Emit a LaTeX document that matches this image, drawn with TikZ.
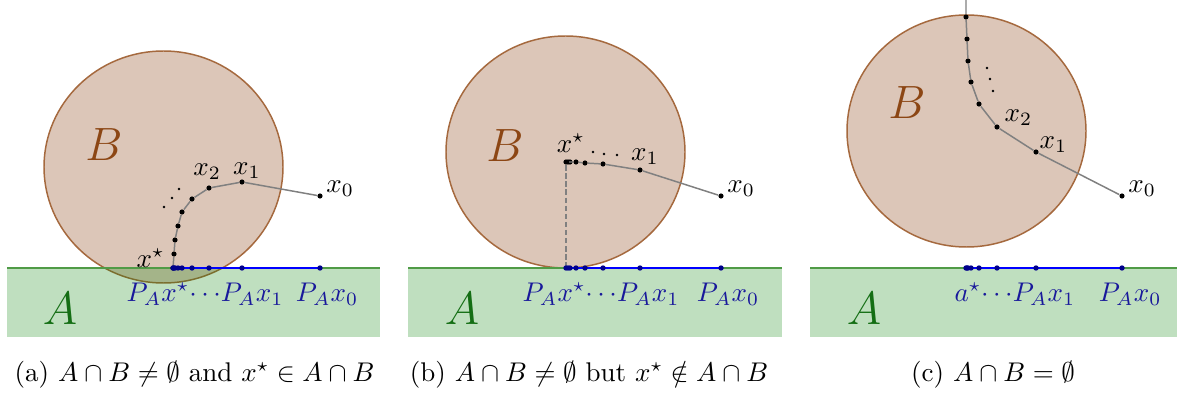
\documentclass[tikz,border=0pt]{standalone}
\usepackage{amsmath,amssymb}
\usepackage{xcolor}
\usetikzlibrary{positioning}

\definecolor{ballfill}{RGB}{220,198,184}
\definecolor{balledge}{RGB}{165,105,62}
\definecolor{ballname}{RGB}{140,70,20}
\definecolor{setfill}{RGB}{0,128,0}
\definecolor{setedge}{RGB}{80,155,70}
\definecolor{setname}{RGB}{20,110,20}
\definecolor{projline}{RGB}{0,0,255}
\definecolor{projdot}{RGB}{0,0,140}
\definecolor{projname}{RGB}{25,25,155}

\begin{document}
\begin{tikzpicture}[
		x=0.37pt, y=-0.37pt,
		ball/.style={draw=balledge, line width=0.55pt, fill=ballfill},
		setA/.style={fill=setfill, fill opacity=0.25},
		edgeA/.style={draw=setedge, line width=0.75pt},
		trail/.style={draw=gray, line width=0.55pt},
		iter/.style={circle, fill=black, inner sep=0pt, minimum size=1.9pt},
		proj/.style={circle, fill=projdot, inner sep=0pt, minimum size=2pt},
		projpath/.style={draw=projline, line width=0.75pt},
		trend/.style={circle, fill=black, inner sep=0pt, minimum size=1pt},
		balllbl/.style={text=ballname, font=\LARGE, inner sep=0pt},
		setlbl/.style={text=setname, font=\LARGE, inner sep=0pt},
		lbl/.style={inner sep=1pt},
		plbl/.style={inner sep=1pt, text=projname}
		]
		
		\useasboundingbox (0,0) rectangle (1177,396);
		
		% (a)
		\draw[ball] (163.5,167) ellipse [x radius=119.5, y radius=116];
		\node[balllbl] (Ba) at (104,145) {$B$};
		\fill[setA] (7,268) rectangle (380,337);
		\draw[edgeA] (7,268) -- (380,268);
		\node[setlbl] (Aa) at (60,309) {$A$};
		
		\foreach \x/\y [count=\i] in {320/196,242/182,209/188,192/199,182/212,178/226,175/240,174/254,173/268}
			\node[iter] (a\i) at (\x,\y) {};
		\draw[trail] (a1) -- (a2) -- (a3) -- (a4) -- (a5) -- (a6) -- (a7) -- (a8) -- (a9);
		\foreach \x/\y [count=\i] in {164/207,172/198,179/189}
			\node[trend] (ta\i) at (\x,\y) {};
		
		\foreach \x [count=\i] in {320,242,209,192,182,178,175,174,173}
			\coordinate (pa\i) at (\x,268);
		\draw[projpath] (pa9) -- (pa1);
		\foreach \i in {1,...,9}
			\node[proj] (pda\i) at (pa\i) {};
		
		\node[lbl, right=0pt of a1, yshift=2.6pt] (la0) {$x_0$};
		\node[lbl, above=-0.9pt of a2, xshift=1.8pt] (la1) {$x_1$};
		\node[lbl, above=0.7pt of a3, xshift=-0.7pt] (la2) {$x_2$};
		\node[lbl, left=0.8pt of a9, yshift=3.7pt] (las) {$x^\star$};
		\node[plbl, below=4.3pt of pa2, xshift=-13.7pt] (pla) {$P_Ax^\star{\cdots}P_Ax_1$};
		\node[plbl, below=4.3pt of pa1, xshift=2.6pt] (plb) {$P_Ax_0$};
		
		\node (capa) at (194.5,375) {(a) $A\cap B\neq\emptyset$ and $x^\star\in A\cap B$};
		
		% (b)
		\draw[ball] (565.5,152) ellipse [x radius=119.5, y radius=116];
		\node[balllbl] (Bb) at (505,146) {$B$};
		\fill[setA] (408,268) rectangle (782,337);
		\draw[edgeA] (408,268) -- (782,268);
		\node[setlbl] (Ab) at (462,309) {$A$};
		
		\foreach \x/\y [count=\i] in {721/196,640/170,603/164,585/163,576/162,570/162,568/162,566/162}
			\node[iter] (b\i) at (\x,\y) {};
		\draw[trail] (b1) -- (b2) -- (b3) -- (b4) -- (b5) -- (b6) -- (b7) -- (b8);
		\foreach \x/\y [count=\i] in {593/152,604/154,617/155}
			\node[trend] (tb\i) at (\x,\y) {};
		
		\foreach \x [count=\i] in {721,640,603,585,576,570,568,566}
			\coordinate (pb\i) at (\x,268);
		\draw[gray, dash pattern=on 2pt off 1pt, line width=0.4pt] (b8) -- (pb8);
		\draw[projpath] (pb8) -- (pb1);
		\foreach \i in {1,...,8}
			\node[proj] (pdb\i) at (pb\i) {};
		
		\node[lbl, right=0pt of b1, yshift=2.6pt] (lb0) {$x_0$};
		\node[lbl, above=-0.4pt of b2, xshift=1.8pt] (lb1) {$x_1$};
		\node[lbl, above=1.2pt of b8, xshift=1.8pt] (lbs) {$x^\star$};
		\node[plbl, below=4.3pt of pb2, xshift=-14.4pt] (plc) {$P_Ax^\star{\cdots}P_Ax_1$};
		\node[plbl, below=4.3pt of pb1, xshift=2.6pt] (pld) {$P_Ax_0$};
		
		\node (capb) at (589,375) {(b) $A\cap B\neq\emptyset$ but $x^\star\notin A\cap B$};
		
		% (c)
		\draw[ball] (966.5,131) ellipse [x radius=119.5, y radius=116];
		\node[balllbl] (Bc) at (907,103) {$B$};
		\fill[setA] (810,268) rectangle (1177,337);
		\draw[edgeA] (810,268) -- (1177,268);
		\node[setlbl] (Ac) at (864,309) {$A$};
		
		\foreach \x/\y [count=\i] in {1122/196,1036/152,997/127,979/104,971/82,968/61,967/39,966/17}
			\node[iter] (c\i) at (\x,\y) {};
		\coordinate (c9) at (966,0);
		\draw[trail] (c9) -- (c8) -- (c7) -- (c6) -- (c5) -- (c4) -- (c3) -- (c2) -- (c1);
		\foreach \x/\y [count=\i] in {987/68,990/79,993/91}
			\node[trend] (tc\i) at (\x,\y) {};
		
		\foreach \x [count=\i] in {1122,1036,997,979,971,968,967,966}
			\coordinate (pc\i) at (\x,268);
		\draw[projpath] (pc8) -- (pc1);
		\foreach \i in {1,...,8}
			\node[proj] (pdc\i) at (pc\i) {};
		
		\node[lbl, right=0pt of c1, yshift=2.6pt] (lc0) {$x_0$};
		\node[lbl, right=-1pt of c2, yshift=2.6pt] (lc1) {$x_1$};
		\node[lbl, right=0.5pt of c3, yshift=3.3pt] (lc2) {$x_2$};
		\node[plbl, below=4.3pt of pc2, xshift=-7.8pt] (ple) {$a^\star{\cdots}P_Ax_1$};
		\node[plbl, below=4.3pt of pc1, xshift=3pt] (plf) {$P_Ax_0$};
		
		\node (capc) at (993,375) {(c) $A\cap B=\emptyset$};
		
	\end{tikzpicture}
\end{document}
